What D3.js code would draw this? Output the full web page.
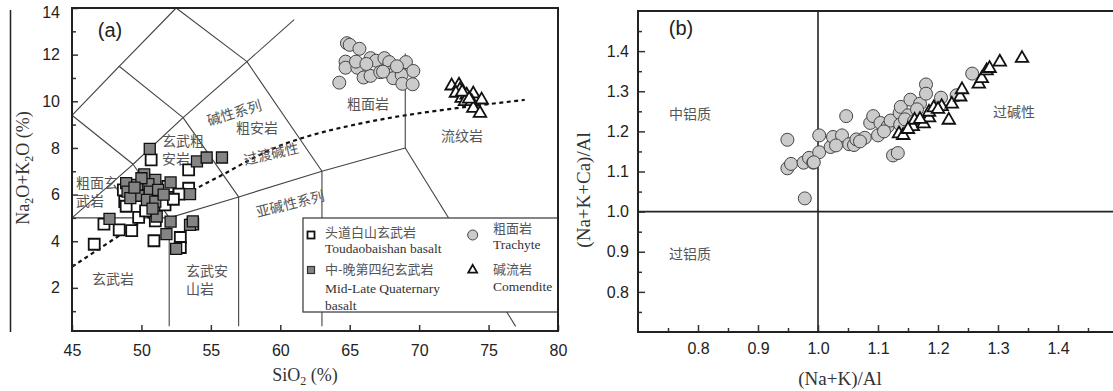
<!doctype html>
<html lang="zh">
<head>
<meta charset="utf-8">
<title>TAS / alkalinity diagrams</title>
<script src="https://cdn.jsdelivr.net/npm/d3@7"></script>
<style>
  body { margin: 0; background: #fff; }
  svg { display: block; }
  .tick text { font-family: "Liberation Sans", Arial, sans-serif; font-size: 16px; fill: #222; }
  .tick line { stroke: #333; stroke-width: 1.5; }
  .cn { font-family: "Noto Sans CJK SC", sans-serif; font-size: 14px; fill: #555; }
  .serif { font-family: "Liberation Serif", "Times New Roman", serif; fill: #333; }
</style>
</head>
<body>
<svg width="1113" height="391"></svg>
<script>
// ---------- panel (a) : SiO2 vs Na2O+K2O ----------
const siTicks = [45, 50, 55, 60, 65, 70, 75, 80];
const alkTicks = [2, 4, 6, 8, 10, 12, 14];
const alkMinor = [1, 3, 5, 7, 9, 11, 13];

// field boundaries of the TAS grid
const tasLines = [
  [[45, 5], [52, 5], [57, 5.9], [63, 7], [69, 8]],
  [[52, 0.35], [52, 5]],
  [[57, 0.35], [57, 5.9]],
  [[63, 0.35], [63, 7]],
  [[69, 8], [76.95, 0.35]],
  [[69, 8], [69, 12.05]],
  [[45, 5], [49.4, 7.3], [52, 5]],
  [[49.4, 7.3], [53, 9.3], [57, 5.9]],
  [[53, 9.3], [57.6, 11.7], [63, 7]],
  [[45, 9.4], [49.4, 7.3]],
  [[45, 9.4], [48.4, 11.5], [53, 9.3]],
  [[48.4, 11.5], [52.5, 14]],
  [[52.5, 14], [57.6, 11.7], [61, 13.5]]
];
// alkaline / subalkaline divide (dashed)
const alkDivide = [[45, 2.9], [48.3, 4.2], [50, 4.85], [52, 5.5], [54, 6.27], [56, 6.9], [58, 7.55],
  [60, 8.1], [62, 8.5], [65, 8.95], [68, 9.3], [72, 9.65], [77.6, 10.06]];

const toudaoBasalt = [[50.7, 7.49], [53.4, 7.06], [53.4, 6.27], [52.7, 6.02], [48.8, 5.7], [51.7, 5.56],
  [49.8, 5.02], [47.3, 4.73], [48.4, 4.49], [49.3, 4.45], [50.9, 4.02], [52.8, 4.16], [53.7, 4.73],
  [46.6, 3.87], [52.8, 3.73], [51.0, 4.87], [48.7, 6.2], [48.9, 5.5], [52.3, 5.8], [50.3, 5.3],
  [51.9, 6.35], [49.3, 6.0]];
const quatBasalt = [[50.6, 7.96], [54.0, 7.42], [54.7, 7.59], [55.8, 7.59], [50.2, 6.87], [51.0, 6.63],
  [52.1, 6.52], [48.9, 6.49], [49.7, 6.42], [50.5, 6.45], [49.0, 6.13], [49.8, 5.95], [50.6, 6.13],
  [51.2, 6.2], [50.4, 5.77], [51.0, 5.7], [53.5, 6.02], [53.5, 4.7], [51.1, 5.06], [47.7, 4.96],
  [52.1, 4.84], [51.8, 4.3], [52.5, 3.67], [49.2, 5.85], [50.0, 6.7], [51.6, 6.0], [49.5, 6.3],
  [50.8, 5.4], [53.7, 4.85]];
const trachyteA = [[64.8, 12.49], [65.0, 12.42], [65.7, 12.25], [64.25, 10.8], [64.7, 11.7], [64.7, 11.44],
  [65.55, 11.44], [65.45, 11.7], [66.0, 11.02], [66.5, 11.85], [66.5, 11.09], [66.9, 11.74],
  [67.2, 11.25], [67.5, 11.85], [67.85, 11.68], [67.9, 11.23], [68.26, 11.23], [68.14, 10.99],
  [68.74, 11.13], [68.79, 10.75], [69.05, 11.68], [69.58, 11.3], [69.53, 10.73], [67.4, 11.27],
  [66.2, 11.6], [68.4, 11.5]];
const comenditeA = [[72.34, 10.66], [72.87, 10.7], [72.94, 10.49], [72.65, 10.35], [73.06, 10.13],
  [73.42, 10.27], [73.9, 10.32], [73.3, 9.99], [73.78, 9.99], [74.5, 10.06], [73.9, 9.7],
  [74.38, 9.49], [73.1, 10.4], [73.6, 10.1]];

// ---------- panel (b) : (Na+K)/Al vs (Na+K+Ca)/Al ----------
const akTicks = [0.8, 0.9, 1.0, 1.1, 1.2, 1.3, 1.4];
const akMinor = [0.75, 0.85, 0.95, 1.05, 1.15, 1.25, 1.35, 1.45, 1.5];
const ackTicks = [0.8, 0.9, 1.0, 1.1, 1.2, 1.3, 1.4];
const ackMinor = [0.75, 0.85, 0.95, 1.05, 1.15, 1.25, 1.35, 1.45];

const trachyteB = [[0.949, 1.179], [0.949, 1.108], [0.955, 1.119], [0.976, 1.122], [0.985, 1.134],
  [0.992, 1.122], [0.978, 1.033], [1.002, 1.19], [1.002, 1.148], [1.021, 1.161], [1.025, 1.186],
  [1.04, 1.19], [1.047, 1.238], [1.052, 1.168], [1.06, 1.166], [1.064, 1.18], [1.078, 1.184],
  [1.087, 1.221], [1.092, 1.238], [1.1, 1.19], [1.104, 1.221], [1.116, 1.212], [1.121, 1.227],
  [1.125, 1.14], [1.133, 1.146], [1.136, 1.246], [1.138, 1.261], [1.154, 1.279], [1.17, 1.269],
  [1.18, 1.317], [1.18, 1.294], [1.205, 1.284], [1.231, 1.29], [1.257, 1.344], [1.137, 1.217],
  [1.15, 1.24], [1.165, 1.255], [1.11, 1.2], [1.07, 1.175], [1.03, 1.165], [0.993, 1.123],
  [1.145, 1.23], [1.16, 1.225]];
const comenditeB = [[1.135, 1.194], [1.142, 1.19], [1.158, 1.212], [1.161, 1.228], [1.176, 1.219],
  [1.185, 1.234], [1.185, 1.248], [1.193, 1.259], [1.206, 1.262], [1.218, 1.228], [1.223, 1.268],
  [1.237, 1.286], [1.24, 1.304], [1.268, 1.318], [1.273, 1.332], [1.281, 1.351], [1.286, 1.357],
  [1.303, 1.373], [1.34, 1.382], [1.15, 1.205], [1.17, 1.23], [1.2, 1.255]];

const svg = d3.select("svg");

const sqSym = d3.symbol().type(d3.symbolSquare).size(121);
const triSym = d3.symbol().type(d3.symbolTriangle).size(68);

function cnText(g, x, y, txt, anchor, rot) {
  const t = g.append("text").attr("class", "cn")
    .attr("text-anchor", anchor || "middle")
    .attr("dominant-baseline", "central")
    .text(txt);
  if (rot) t.attr("transform", `translate(${x},${y}) rotate(${rot})`);
  else t.attr("x", x).attr("y", y);
  return t;
}

// ================= panel (a) =================
const xA = d3.scaleLinear().domain([45, 80]).range([72, 558]);
const yA = d3.scaleLinear().domain([0.15, 14]).range([331, 8]);
const gA = svg.append("g");

svg.append("line").attr("x1", 10.5).attr("x2", 10.5).attr("y1", 10).attr("y2", 332)
  .attr("stroke", "#222").attr("stroke-width", 1.5);

const lineA = d3.line().x(d => xA(d[0])).y(d => yA(d[1]));
gA.selectAll("path.field").data(tasLines).join("path")
  .attr("class", "field").attr("d", lineA)
  .attr("fill", "none").attr("stroke", "#444").attr("stroke-width", 1.1);

const curveA = d3.line().x(d => xA(d[0])).y(d => yA(d[1])).curve(d3.curveMonotoneX);
gA.append("path").datum(alkDivide).attr("d", curveA)
  .attr("fill", "none").attr("stroke", "#111").attr("stroke-width", 2.2)
  .attr("stroke-dasharray", "4,3.5");

// field names
cnText(gA, 76, 182, "粗面玄", "start");
cnText(gA, 76, 200, "武岩", "start");
cnText(gA, 162, 140, "玄武粗", "start");
cnText(gA, 162, 158, "安岩", "start");
cnText(gA, 234, 112, "碱性系列", "middle", -17);
cnText(gA, 257, 127, "粗安岩");
cnText(gA, 271, 153, "过渡碱性", "middle", -13);
cnText(gA, 290, 203, "亚碱性系列", "middle", -14);
cnText(gA, 113, 278, "玄武岩");
cnText(gA, 186, 270, "玄武安", "start");
cnText(gA, 186, 288, "山岩", "start");
cnText(gA, 368, 103, "粗面岩");
cnText(gA, 462, 135, "流纹岩");

// samples
gA.selectAll("path.tdb").data(toudaoBasalt).join("path").attr("class", "tdb")
  .attr("transform", d => `translate(${xA(d[0])},${yA(d[1])})`).attr("d", sqSym)
  .attr("fill", "#fff").attr("stroke", "#111").attr("stroke-width", 1.8);
gA.selectAll("path.qb").data(quatBasalt).join("path").attr("class", "qb")
  .attr("transform", d => `translate(${xA(d[0])},${yA(d[1])})`).attr("d", sqSym)
  .attr("fill", "#848484").attr("stroke", "#111").attr("stroke-width", 1.3);
gA.selectAll("circle.tr").data(trachyteA).join("circle").attr("class", "tr")
  .attr("cx", d => xA(d[0])).attr("cy", d => yA(d[1])).attr("r", 6.5)
  .attr("fill", "#cbcbcb").attr("stroke", "#444").attr("stroke-width", 1);
gA.selectAll("path.cm").data(comenditeA).join("path").attr("class", "cm")
  .attr("transform", d => `translate(${xA(d[0])},${yA(d[1])})`).attr("d", triSym)
  .attr("fill", "#fff").attr("stroke", "#111").attr("stroke-width", 1.8);

// legend
const lg = gA.append("g");
lg.append("rect").attr("x", 303).attr("y", 218).attr("width", 255).attr("height", 94)
  .attr("fill", "#fff").attr("stroke", "#444").attr("stroke-width", 1.3);
lg.append("rect").attr("x", 307.5).attr("y", 231.5).attr("width", 7).attr("height", 7)
  .attr("fill", "#fff").attr("stroke", "#111").attr("stroke-width", 1.8);
lg.append("rect").attr("x", 307.5).attr("y", 266.5).attr("width", 7).attr("height", 7)
  .attr("fill", "#848484").attr("stroke", "#333").attr("stroke-width", 1.2);
lg.append("circle").attr("cx", 472.7).attr("cy", 235).attr("r", 5)
  .attr("fill", "#cbcbcb").attr("stroke", "#444");
lg.append("path").attr("transform", "translate(472.7,270)").attr("d", d3.symbol().type(d3.symbolTriangle).size(34))
  .attr("fill", "#fff").attr("stroke", "#111").attr("stroke-width", 1.8);
cnText(lg, 325, 231, "头道白山玄武岩", "start").style("font-size", "13px");
cnText(lg, 325, 268, "中-晚第四纪玄武岩", "start").style("font-size", "13px");
cnText(lg, 493, 227, "粗面岩", "start").style("font-size", "13px");
cnText(lg, 493, 268, "碱流岩", "start").style("font-size", "13px");
const legEn = [["Toudaobaishan basalt", 325, 248], ["Mid-Late Quaternary", 325, 288], ["basalt", 325, 305],
  ["Trachyte", 493, 244], ["Comendite", 493, 286]];
lg.selectAll("text.en").data(legEn).join("text").attr("class", "en serif")
  .attr("x", d => d[1]).attr("y", d => d[2]).attr("dominant-baseline", "central")
  .style("font-size", "13.5px").text(d => d[0]);

// axes (ticks point inwards)
gA.append("g").attr("transform", "translate(0,331)")
  .call(d3.axisBottom(xA).tickValues(siTicks).tickSize(-6).tickPadding(14))
  .call(g => g.select(".domain").remove());
const yAxA = gA.append("g").attr("transform", "translate(72,0)")
  .call(d3.axisLeft(yA).tickValues(alkTicks).tickSize(-6).tickPadding(12))
  .call(g => g.select(".domain").remove());
yAxA.selectAll(".tick text").filter(d => d === 14).attr("dy", "0.62em");
gA.append("g").attr("transform", "translate(72,0)")
  .call(d3.axisLeft(yA).tickValues(alkMinor).tickSize(-4).tickFormat(""))
  .call(g => g.select(".domain").remove());

gA.append("rect").attr("x", xA(45)).attr("y", yA(14))
  .attr("width", xA(80) - xA(45)).attr("height", yA(0.15) - yA(14))
  .attr("fill", "none").attr("stroke", "#222").attr("stroke-width", 2);

gA.append("text").attr("x", 110).attr("y", 30).attr("text-anchor", "middle")
  .attr("dominant-baseline", "central")
  .style("font-family", "Liberation Sans, Arial, sans-serif").style("font-size", "20px").style("fill", "#222")
  .text("(a)");

const xt = gA.append("text").attr("class", "serif").attr("x", 305).attr("y", 381)
  .attr("text-anchor", "middle").style("font-size", "18px");
xt.append("tspan").text("SiO");
xt.append("tspan").attr("dy", 4).style("font-size", "12px").text("2");
xt.append("tspan").attr("dy", -4).text(" (%)");

const yt = gA.append("text").attr("class", "serif").attr("transform", "translate(29,168) rotate(-90)")
  .attr("text-anchor", "middle").style("font-size", "18px");
yt.append("tspan").text("Na");
yt.append("tspan").attr("dy", 4).style("font-size", "12px").text("2");
yt.append("tspan").attr("dy", -4).text("O+K");
yt.append("tspan").attr("dy", 4).style("font-size", "12px").text("2");
yt.append("tspan").attr("dy", -4).text("O (%)");

// ================= panel (b) =================
const xB = d3.scaleLinear().domain([0.7, 1.6]).range([638, 1178]);
const yB = d3.scaleLinear().domain([0.7, 1.5]).range([332, 11]);
const gB = svg.append("g");

gB.append("line").attr("x1", xB(1.0)).attr("x2", xB(1.0)).attr("y1", yB(1.5)).attr("y2", yB(0.7))
  .attr("stroke", "#222").attr("stroke-width", 1.6);
gB.append("line").attr("x1", xB(0.7)).attr("x2", xB(1.6)).attr("y1", yB(1.0)).attr("y2", yB(1.0))
  .attr("stroke", "#222").attr("stroke-width", 1.6);

cnText(gB, 690, 113, "中铝质");
cnText(gB, 690, 253, "过铝质");
cnText(gB, 1014, 111, "过碱性");

gB.selectAll("circle.tr").data(trachyteB).join("circle").attr("class", "tr")
  .attr("cx", d => xB(d[0])).attr("cy", d => yB(d[1])).attr("r", 6.5)
  .attr("fill", "#cbcbcb").attr("stroke", "#444").attr("stroke-width", 1);
gB.selectAll("path.cm").data(comenditeB).join("path").attr("class", "cm")
  .attr("transform", d => `translate(${xB(d[0])},${yB(d[1])})`).attr("d", triSym)
  .attr("fill", "#fff").attr("stroke", "#111").attr("stroke-width", 1.8);

gB.append("g").attr("transform", "translate(0,332)")
  .call(d3.axisBottom(xB).tickValues(akTicks).tickSize(-7).tickPadding(11).tickFormat(d3.format(".1f")))
  .call(g => g.select(".domain").remove());
gB.append("g").attr("transform", "translate(0,332)")
  .call(d3.axisBottom(xB).tickValues(akMinor).tickSize(-4).tickFormat(""))
  .call(g => g.select(".domain").remove());
gB.append("g").attr("transform", "translate(638,0)")
  .call(d3.axisLeft(yB).tickValues(ackTicks).tickSize(-7).tickPadding(9).tickFormat(d3.format(".1f")))
  .call(g => g.select(".domain").remove());
gB.append("g").attr("transform", "translate(638,0)")
  .call(d3.axisLeft(yB).tickValues(ackMinor).tickSize(-4).tickFormat(""))
  .call(g => g.select(".domain").remove());

gB.append("rect").attr("x", xB(0.7)).attr("y", yB(1.5))
  .attr("width", xB(1.6) - xB(0.7)).attr("height", yB(0.7) - yB(1.5))
  .attr("fill", "none").attr("stroke", "#222").attr("stroke-width", 2);

gB.append("text").attr("x", 681).attr("y", 28).attr("text-anchor", "middle")
  .attr("dominant-baseline", "central")
  .style("font-family", "Liberation Sans, Arial, sans-serif").style("font-size", "20px").style("fill", "#222")
  .text("(b)");

gB.append("text").attr("class", "serif").attr("x", 840).attr("y", 385)
  .attr("text-anchor", "middle").style("font-size", "19px").text("(Na+K)/Al");
gB.append("text").attr("class", "serif").attr("transform", "translate(583,190) rotate(-90)")
  .attr("text-anchor", "middle").attr("dominant-baseline", "central")
  .style("font-size", "19px").text("(Na+K+Ca)/Al");
</script>
</body>
</html>
